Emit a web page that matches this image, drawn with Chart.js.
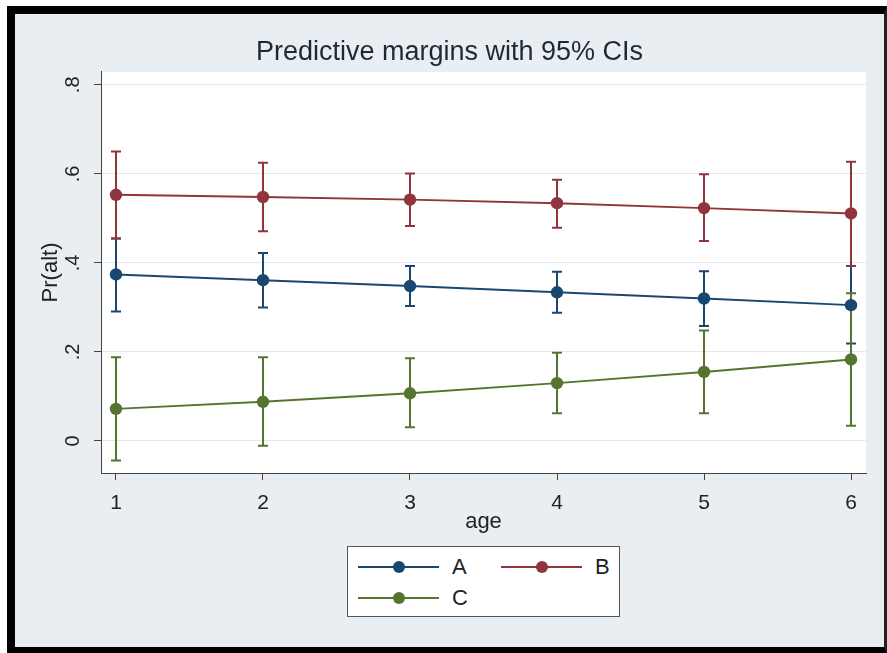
<!DOCTYPE html>
<html>
<head>
<meta charset="utf-8">
<title>Predictive margins with 95% CIs</title>
<script src="https://cdn.jsdelivr.net/npm/chart.js@4.4.0/dist/chart.umd.min.js"></script>
<style>
	html, body {
		margin: 0;
		padding: 0;
		background: #fff;
	}

	#frame {
		position: absolute;
		left: 7px;
		top: 6px;
		width: 869px;
		height: 633px;
		border-left: 8px solid #000;
		border-top: 8px solid #000;
		border-bottom: 6px solid #000;
		border-right: 3px solid #222;
		background: #e8eef2;
	}

	#wrap {
		position: absolute;
		left: 0;
		top: 0;
		width: 869px;
		height: 633px;
	}

	#legend {
		position: absolute;
		box-sizing: border-box;
		left: 332px;
		top: 532px;
		width: 273px;
		height: 71px;
		border: 1.5px solid #555;
		background: #fff;
		font: 22px "Liberation Sans", Arial, sans-serif;
		color: #222;
	}

	#legend .line {
		position: absolute;
		height: 2px;
		width: 81px;
	}

	#legend .dot {
		position: absolute;
		width: 12px;
		height: 12px;
		border-radius: 50%;
	}

	#legend .txt {
		position: absolute;
		line-height: 22px;
	}
</style>
</head>
<body>
<div id="frame">
	<div id="wrap"><canvas id="canvas"></canvas></div>
	<div id="legend"></div>
</div>
<script>
	// values
	const ages = [1, 2, 3, 4, 5, 6];
	const seriesNames = ['A', 'B', 'C'];

	const marginA = [0.374, 0.361, 0.348, 0.334, 0.320, 0.305];
	const lowerA = [0.291, 0.300, 0.303, 0.288, 0.258, 0.219];
	const upperA = [0.455, 0.422, 0.393, 0.380, 0.381, 0.393];

	const marginB = [0.553, 0.548, 0.542, 0.534, 0.523, 0.511];
	const lowerB = [0.455, 0.471, 0.483, 0.479, 0.449, 0.393];
	const upperB = [0.650, 0.625, 0.601, 0.587, 0.599, 0.627];

	const marginC = [0.072, 0.088, 0.107, 0.130, 0.155, 0.183];
	const lowerC = [-0.044, -0.011, 0.031, 0.062, 0.062, 0.034];
	const upperC = [0.188, 0.188, 0.186, 0.198, 0.248, 0.332];

	const xTickLabels = ['1', '2', '3', '4', '5', '6'];
	const yTickValues = [0, 0.2, 0.4, 0.6, 0.8];
	const yTickLabels = ['0', '.2', '.4', '.6', '.8'];

	const colors = ['#1a476f', '#90353b', '#55752f'];
	const margins = [marginA, marginB, marginC];
	const lowers = [lowerA, lowerB, lowerC];
	const uppers = [upperA, upperB, upperC];

	const fontFamily = '"Liberation Sans", Arial, sans-serif';
	const textColor = '#222';
	const axisColor = '#444';

	Chart.defaults.font.family = fontFamily;

	// white plot region
	const plotBg = {
		id: 'plotBg',
		beforeDraw(chart) {
			const { ctx, chartArea: a } = chart;
			ctx.save();
			ctx.fillStyle = '#fff';
			ctx.fillRect(a.left, a.top, a.width, a.height);
			ctx.restore();
		}
	};

	// confidence interval caps
	const ciBars = {
		id: 'ciBars',
		beforeDatasetsDraw(chart) {
			const { ctx, scales: { x, y } } = chart;
			ctx.save();
			chart.data.datasets.forEach((ds) => {
				ctx.strokeStyle = ds.borderColor;
				ctx.lineWidth = 2;
				ds.lower.forEach((lo, i) => {
					const px = x.getPixelForValue(ages[i]);
					const pl = y.getPixelForValue(lo);
					const pu = y.getPixelForValue(ds.upper[i]);
					ctx.beginPath();
					ctx.moveTo(px, pl);
					ctx.lineTo(px, pu);
					ctx.moveTo(px - 5, pl);
					ctx.lineTo(px + 5, pl);
					ctx.moveTo(px - 5, pu);
					ctx.lineTo(px + 5, pu);
					ctx.stroke();
				});
			});
			ctx.restore();
		}
	};

	new Chart(document.getElementById('canvas'), {
		type: 'line',
		data: {
			datasets: seriesNames.map((name, s) => ({
				label: name,
				data: ages.map((a, i) => ({ x: a, y: margins[s][i] })),
				lower: lowers[s],
				upper: uppers[s],
				borderColor: colors[s],
				backgroundColor: colors[s],
				pointBackgroundColor: colors[s],
				pointBorderWidth: 0,
				pointRadius: 6.2,
				borderWidth: 1.9,
				tension: 0,
			})),
		},
		options: {
			responsive: true,
			maintainAspectRatio: false,
			devicePixelRatio: 1,
			animation: false,
			layout: { padding: { top: 0, left: 0, right: 0, bottom: 112 } },
			scales: {
				x: {
					type: 'linear',
					min: 0.898,
					max: 6.102,
					afterBuildTicks: (s) => { s.ticks = ages.map((v) => ({ value: v })); },
					afterFit: (s) => { s.height = 62; },
					ticks: {
						callback: (v, i) => xTickLabels[i],
						autoSkip: false,
						maxRotation: 0,
						padding: 11,
						color: textColor,
						font: { size: 21 },
					},
					grid: { drawOnChartArea: false, tickLength: 7, tickColor: axisColor },
					border: { color: axisColor, width: 1 },
					title: { display: true, text: 'age', color: textColor, font: { size: 22 }, padding: 0 },
				},
				y: {
					min: -0.072,
					max: 0.829,
					afterBuildTicks: (s) => { s.ticks = yTickValues.map((v) => ({ value: v })); },
					afterFit: (s) => { s.width = 86; },
					ticks: {
						callback: (v, i) => yTickLabels[i],
						autoSkip: false,
						minRotation: 90,
						maxRotation: 90,
						crossAlign: 'center',
						padding: 12,
						color: textColor,
						font: { size: 20 },
					},
					grid: { color: '#e3e9ed', tickColor: axisColor, tickLength: 7 },
					border: { color: axisColor, width: 1 },
					title: { display: true, text: 'Pr(alt)', color: textColor, font: { size: 22 }, padding: { top: 23, bottom: 0 } },
				},
				spacer: {
					type: 'linear',
					position: 'right',
					ticks: { display: false },
					grid: { display: false },
					border: { display: false },
					afterFit: (s) => { s.width = 18; },
				},
			},
			plugins: {
				legend: { display: false },
				tooltip: { enabled: false },
				title: {
					display: true,
					text: 'Predictive margins with 95% CIs',
					color: '#1f2933',
					font: { size: 27, weight: 'normal' },
					padding: { top: 22, bottom: 3.5 },
				},
			},
		},
		plugins: [plotBg, ciBars],
	});

	// legend box: two columns, line with marker and label
	const legend = document.getElementById('legend');
	const legendPos = [[10, 20], [153, 20], [10, 51]];
	seriesNames.forEach((name, s) => {
		const [lx, ly] = legendPos[s];
		const line = document.createElement('div');
		line.className = 'line';
		line.style.left = lx + 'px';
		line.style.top = (ly - 1) + 'px';
		line.style.background = colors[s];
		const dot = document.createElement('div');
		dot.className = 'dot';
		dot.style.left = (lx + 35) + 'px';
		dot.style.top = (ly - 6) + 'px';
		dot.style.background = colors[s];
		const txt = document.createElement('div');
		txt.className = 'txt';
		txt.style.left = (lx + 94) + 'px';
		txt.style.top = (ly - 11) + 'px';
		txt.innerText = name;
		legend.append(line, dot, txt);
	});
</script>
</body>
</html>
